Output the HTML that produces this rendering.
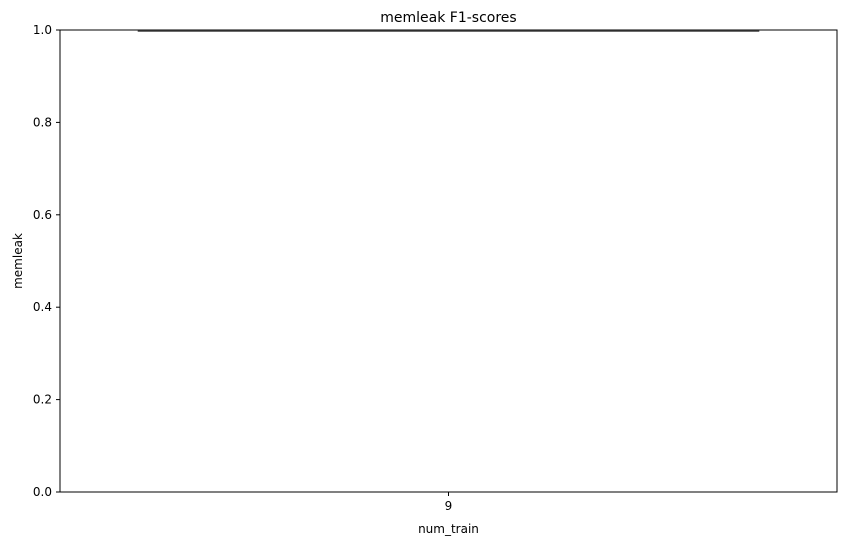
<!DOCTYPE html>
<html><head><meta charset="utf-8"><style>
body{margin:0;background:#fff;font-family:"Liberation Sans","DejaVu Sans",sans-serif;}
text{font-family:"DejaVu Sans","Liberation Sans",sans-serif;}
</style></head><body>
<svg id="chart" width="846" height="545" xmlns="http://www.w3.org/2000/svg"></svg>
<script>
const categories = ["9"];
const medians = [1.0];
const q1s = [1.0];
const q3s = [1.0];
const yTicks = [0.0, 0.2, 0.4, 0.6, 0.8, 1.0];
const yTickLabels = ["0.0","0.2","0.4","0.6","0.8","1.0"];

const svg = document.getElementById('chart');
const NS = 'http://www.w3.org/2000/svg';
const L = 60, R = 837, T = 30, B = 492;
function y(v){ return B - (v - 0) / (1 - 0) * (B - T); }
const band = (R - L) / categories.length;
function x(i){ return L + band * (i + 0.5); }
function mk(tag, attrs, text){
  const e = document.createElementNS(NS, tag);
  for (const k in attrs) e.setAttribute(k, attrs[k]);
  if (text !== undefined) e.textContent = text;
  svg.appendChild(e);
  return e;
}
const frame = mk('rect', {x:L, y:T, width:R-L, height:B-T, fill:'none', stroke:'#000', 'stroke-width':1});


yTicks.forEach((v, i) => {
  const t = mk('line', {x1:L-4, x2:L, y1:y(v), y2:y(v), stroke:'#000'});
  
  
  const lb = mk('text', {x:L-8, y:y(v)+4, 'text-anchor':'end', 'font-size':12}, yTickLabels[i]);
  
  
});
categories.forEach((c, i) => {
  const cx = x(i);
  const t = mk('line', {x1:cx, x2:cx, y1:B, y2:B+4, stroke:'#000'});
  
  
  const lb = mk('text', {x:cx, y:B+18, 'text-anchor':'middle', 'font-size':12}, c);
  
  
  const w = band * 0.8;
  const box = mk('rect', {x:cx-w/2, y:y(q3s[i]), width:w, height:Math.max(0, y(q1s[i]) - y(q3s[i])), fill:'none', stroke:'#3d3d3d', 'stroke-width':1});
  
  
  const m = mk('line', {x1:cx-w/2, x2:cx+w/2, y1:y(medians[i])+1, y2:y(medians[i])+1, stroke:'#3d3d3d', 'stroke-width':1.5});
  
  
});
const title = mk('text', {x:(L+R)/2, y:22, 'text-anchor':'middle', 'font-size':14}, 'memleak F1-scores');


const xt = mk('text', {x:(L+R)/2, y:533, 'text-anchor':'middle', 'font-size':12}, 'num_train');


const yt = mk('text', {x:22, y:(T+B)/2, 'text-anchor':'middle', 'font-size':12, transform:'rotate(-90 22 '+((T+B)/2)+')'}, 'memleak');


</script>
</body></html>
